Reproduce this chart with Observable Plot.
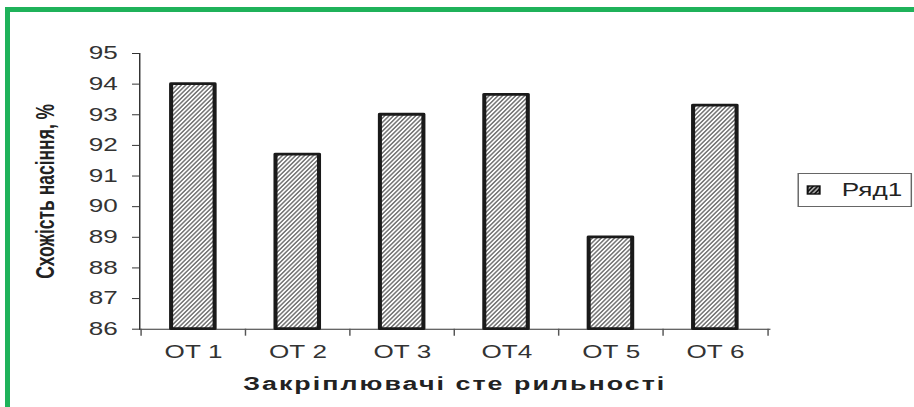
<!DOCTYPE html>
<html>
<head>
<meta charset="utf-8">
<script src="https://cdn.jsdelivr.net/npm/d3@7"></script>
<script src="https://cdn.jsdelivr.net/npm/@observablehq/plot@0.6"></script>
<style>
  html, body { margin: 0; padding: 0; background: #fff; }
  #page { position: relative; width: 914px; height: 407px; overflow: hidden; background: #fff; }
  #stretch { position: absolute; left: 0; top: 0; transform-origin: 0 0; }
  .gb { position: absolute; background: #1fb25a; }
  #legend { position: absolute; box-sizing: border-box; border: 1px solid #666; background: #fff;
            font-family: 'Liberation Sans', Arial, sans-serif; font-size: 18px; color: #222;
            display: flex; align-items: center; }
</style>
</head>
<body>
<div id="page">
  <div id="stretch"></div>
  <div class="gb" style="left:5px; top:7px; width:909px; height:5px;"></div>
  <div class="gb" style="left:5px; top:7px; width:5px; height:400px;"></div>
</div>
<script>
// ---- data ----
const categories = ["ОТ 1", "ОТ 2", "ОТ 3", "ОТ4", "ОТ 5", "ОТ 6"];
const values = [94.0, 91.7, 93.0, 93.65, 89.0, 93.3];
const yTicks = [86, 87, 88, 89, 90, 91, 92, 93, 94, 95];
const seriesName = "Ряд1";
const xTitle = "Закріплювачі сте рильності";
const yTitle = "Схожість насіння, %";

// ---- layout (screen px), horizontal stretch of the original picture ----
const S = 1.45;
const W = 914 / S;
const left = 139 / S, right = 769 / S;
const step = (right - left) / categories.length;
const yMin = yTicks[0], yMax = yTicks[yTicks.length - 1];

const table = categories.map((c, i) => ({cat: c, value: values[i]}));

const chart = Plot.plot({
  width: W,
  height: 407,
  marginLeft: left,
  marginRight: W - right,
  marginTop: 53,
  marginBottom: 407 - 328.7,
  style: {fontFamily: "'Liberation Sans', Arial, sans-serif", fontSize: "18px", color: "#333", background: "transparent", overflow: "visible"},
  x: {domain: categories, paddingInner: 0.58, paddingOuter: 0.29, tickSize: 0, tickPadding: 16, label: null, line: true},
  y: {domain: [yMin, yMax], ticks: yTicks, tickSize: 7 / S, tickPadding: 22 / S - 7 / S, tickFormat: d => String(d), label: null, line: true},
  marks: [
    Plot.barY(table, {x: "cat", y1: () => yMin, y2: "value", fill: "url(#hatch)", stroke: "#1a1a1a", strokeWidth: 2.8, strokeLinejoin: "round"}),
    Plot.ruleX(categories, {x: d => d, y1: () => yMin, y2: () => yMin, insetBottom: -7, dx: -step / 2, stroke: "#555"}),
    Plot.ruleX(categories.slice(-1), {x: d => d, y1: () => yMin, y2: () => yMin, insetBottom: -7, dx: step / 2, stroke: "#555"}),
    Plot.text([xTitle], {frameAnchor: "bottom", dy: 61, fontWeight: "bold", fontSize: 18.5, fill: "#222", textAnchor: "middle"}),
    Plot.text([yTitle], {frameAnchor: "left", dx: -(139 - 45) / S, rotate: -90, fontWeight: "bold", fontSize: 17.5, fill: "#222", textAnchor: "middle"})
  ]
});

// hatch pattern + title spacing
const svg = d3.select(chart.tagName.toLowerCase() === "svg" ? chart : chart.querySelector("svg"));
svg.selectAll("text").filter(function() { return this.textContent === xTitle; }).style("letter-spacing", "1.4px");
const defs = svg.insert("defs", ":first-child");
const pat = defs.append("pattern").attr("id", "hatch").attr("patternUnits", "userSpaceOnUse")
  .attr("width", 10).attr("height", 2.5).attr("patternTransform", "rotate(-55)");
pat.append("rect").attr("width", 10).attr("height", 2.5).attr("fill", "#fff");
pat.append("line").attr("x1", -1).attr("x2", 11).attr("y1", 1.25).attr("y2", 1.25)
  .attr("stroke", "#444").attr("stroke-width", 0.9);

const stretch = document.getElementById("stretch");
stretch.style.width = W + "px";
stretch.style.transform = `scaleX(${S})`;
stretch.appendChild(chart);

// legend (inside stretched layer)
const legend = document.createElement("div");
legend.id = "legend";
legend.style.left = (797 / S) + "px";
legend.style.top = "173px";
legend.style.width = (115 / S) + "px";
legend.style.height = "34px";
const sw = 12 / S;
legend.innerHTML = `<svg width="${sw + 3}" height="12" style="margin-left:${8 / S}px; margin-right:${19 / S}px; overflow:visible">
  <defs><pattern id="legHatch" patternUnits="userSpaceOnUse" width="10" height="2.6" patternTransform="rotate(-55)">
    <rect width="10" height="2.6" fill="#1a1a1a"></rect>
    <line x1="-1" x2="11" y1="1.3" y2="1.3" stroke="#fff" stroke-width="0.8"></line></pattern></defs>
  <rect x="1" y="2" width="${sw}" height="8" fill="url(#legHatch)" stroke="#111" stroke-width="1.4"></rect></svg><span>${seriesName}</span>`;
stretch.appendChild(legend);
</script>
</body>
</html>
